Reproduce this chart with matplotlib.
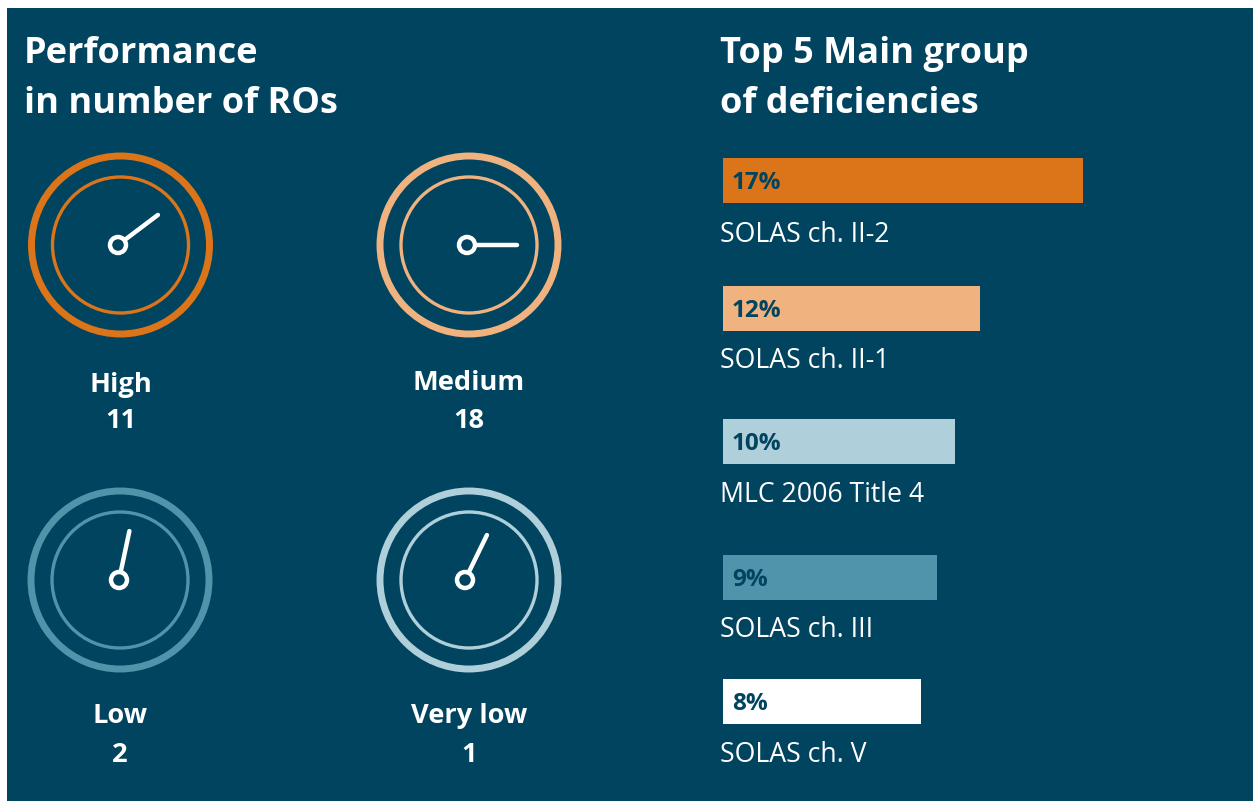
import matplotlib.pyplot as plt
from matplotlib.patches import Circle, Rectangle
import numpy as np

# performance gauges
levels = ['High', 'Medium', 'Low', 'Very low']
counts = [11, 18, 2, 1]
gauge_colors = ['#dc7519', '#f0b27e', '#4f94ab', '#afcfda']
needle_angles = [37, 0, 78, 64]

# top 5 deficiencies
groups = ['SOLAS ch. II-2', 'SOLAS ch. II-1', 'MLC 2006 Title 4', 'SOLAS ch. III', 'SOLAS ch. V']
percents = [17, 12, 10, 9, 8]
bar_widths = [17, 12.15, 10.95, 10.1, 9.35]
bar_colors = ['#dc7519', '#f0b27e', '#afcfda', '#4f94ab', '#ffffff']

NAVY = '#00445f'
W, H = 1253, 801

plt.rcParams['font.family'] = ['Open Sans', 'DejaVu Sans']

fig = plt.figure(figsize=(W / 100, H / 100), dpi=100, facecolor='white')
ax = fig.add_axes([0, 0, 1, 1])
ax.set_xlim(0, W)
ax.set_ylim(H, 0)
ax.axis('off')

ax.add_patch(Rectangle((7, 8), W - 7, H - 8, color=NAVY, lw=0))

ax.text(24, 54, 'Performance', color='white', fontsize=26, fontweight='bold', va='center')
ax.text(24, 104, 'in number of ROs', color='white', fontsize=26, fontweight='bold', va='center')
ax.text(720, 54, 'Top 5 Main group', color='white', fontsize=26, fontweight='bold', va='center')
ax.text(720, 104, 'of deficiencies', color='white', fontsize=26, fontweight='bold', va='center')

# gauges
centers = [(120.5, 245), (469, 245), (120, 580), (469, 580)]
hubs = [(118, 245), (467, 245), (119, 580), (465, 580)]
label_y = [(385, 421), (383, 421), (716, 755), (716, 755)]
for i in range(4):
    cx, cy = centers[i]
    ax.add_patch(Circle((cx, cy), 89, fill=False, ec=gauge_colors[i], lw=5))
    ax.add_patch(Circle((cx, cy), 68, fill=False, ec=gauge_colors[i], lw=2.4))
    hx, hy = hubs[i]
    a = np.radians(needle_angles[i])
    ax.plot([hx, hx + 50 * np.cos(a)], [hy, hy - 50 * np.sin(a)], color='white', lw=3.2, solid_capstyle='round')
    ax.add_patch(Circle((hx, hy), 8, fc=NAVY, ec='white', lw=3.2, zorder=3))
    ax.text(cx, label_y[i][0], levels[i], color='white', fontsize=19.6, fontweight='bold', ha='center', va='center')
    ax.text(cx, label_y[i][1], str(counts[i]), color='white', fontsize=19.6, fontweight='bold', ha='center', va='center')

# bars
bar_y = [158, 286, 419, 555, 679]
text_y = [235, 361, 495, 630, 755]
for i in range(5):
    ax.add_patch(Rectangle((723, bar_y[i]), bar_widths[i] * 21.15, 45, color=bar_colors[i], lw=0))
    ax.text(732, bar_y[i] + 25, '%d%%' % percents[i], color=NAVY, fontsize=17.5, fontweight='bold', va='center')
    ax.text(720, text_y[i], groups[i], color='white', fontsize=19.2, va='center')

fig.savefig('out.png', dpi=100)
